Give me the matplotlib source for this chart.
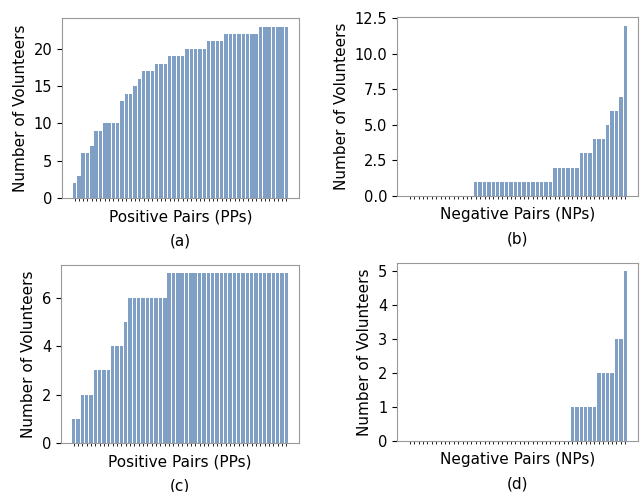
import numpy as np
import matplotlib
matplotlib.use('Agg')
import matplotlib.pyplot as plt

#===============================
# volunteers per pair, sorted ascending (50 pairs per panel)
pp_a = [2, 3, 6, 6, 7, 9, 9, 10, 10, 10, 10, 13, 14, 14, 15, 16, 17, 17, 17,
        18, 18, 18, 19, 19, 19, 19, 20, 20, 20, 20, 20, 21, 21, 21, 21,
        22, 22, 22, 22, 22, 22, 22, 22, 23, 23, 23, 23, 23, 23, 23]
np_b = [0] * 15 + [1] * 18 + [2] * 6 + [3] * 3 + [4] * 3 + [5] + [6] * 2 + [7] + [12]
pp_c = [1] * 2 + [2] * 3 + [3] * 4 + [4] * 3 + [5] + [6] * 9 + [7] * 28
np_d = [0] * 37 + [1] * 6 + [2] * 4 + [3] * 2 + [5]

panels = [
  (pp_a, 'Positive Pairs (PPs)', '(a)'),
  (np_b, 'Negative Pairs (NPs)', '(b)'),
  (pp_c, 'Positive Pairs (PPs)', '(c)'),
  (np_d, 'Negative Pairs (NPs)', '(d)'),
]

# axes boxes in pixels: left, top, right, bottom
boxes = [(62, 18, 299, 198), (397, 17, 638, 196),
         (61, 265, 299, 443), (397, 263, 638, 441)]

W, H = 643, 492
BAR = '#7f9fc4'

#==================================
def DrawFig(filename):
  fig = plt.figure(figsize=(W / 100.0, H / 100.0), dpi=100)
  for (vals, xlab, tag), (l, t, r, b) in zip(panels, boxes):
    ax = fig.add_axes([l / W, 1 - b / H, (r - l) / W, (b - t) / H])
    x = np.arange(len(vals))
    ax.bar(x, vals, width=0.8, color=BAR)
    ax.set_xticks(x)
    ax.set_xticklabels([])
    ax.tick_params(axis='x', length=2.5, width=0.6)
    ax.tick_params(axis='y', labelsize=10.5)
    for s in ax.spines.values():
      s.set_color('#999999')
    ax.set_xlabel(xlab, fontsize=11, labelpad=2)
    ax.set_ylabel('Number of Volunteers', fontsize=11)
    ax.text(0.5, -0.24, tag, transform=ax.transAxes, ha='center', va='center', fontsize=11)
  plt.savefig(filename, dpi=100)
  return

#==================================
def main():
  DrawFig('out.png')
  return

if __name__ == '__main__':
  main()
